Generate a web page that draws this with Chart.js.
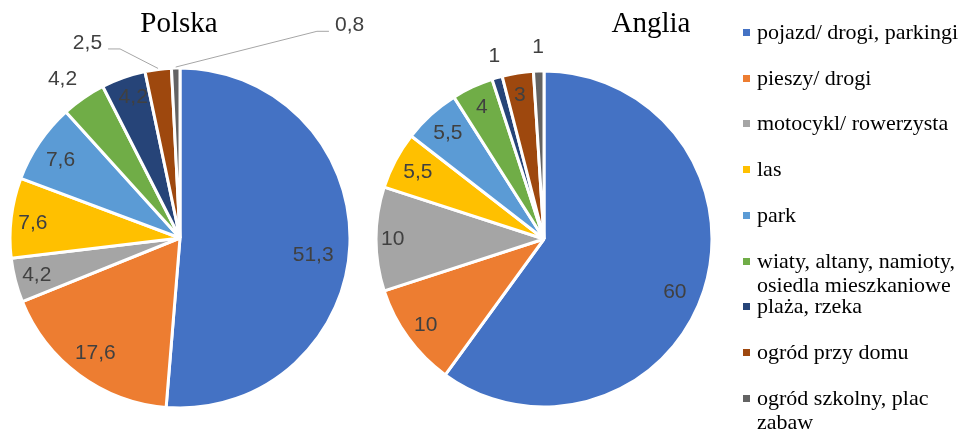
<!DOCTYPE html>
<html>
<head>
<meta charset="utf-8">
<script src="https://cdn.jsdelivr.net/npm/chart.js@4"></script>
<style>
  body { margin: 0; background: #fff; overflow: hidden; }
  #wrap { position: relative; width: 964px; height: 430px; }
  canvas { position: absolute; top: 0; }
  .title { position: absolute; font: 29px "Liberation Serif", "Times New Roman", serif; color: #000; transform: translateX(-50%); line-height: 1; }
  .item { position: absolute; left: 743px; font: 22px/24px "Liberation Serif", "Times New Roman", serif; color: #000; }
  .item span.box { position: absolute; left: 0; top: 9px; width: 7px; height: 7px; }
  .item span.txt { display: block; margin-left: 14px; width: 207px; }
</style>
</head>
<body>
<div id="wrap">
  <canvas id="polska" width="400" height="430" style="left:0;width:400px;height:430px"></canvas>
  <canvas id="anglia" width="360" height="430" style="left:364px;width:360px;height:430px"></canvas>
  <div class="title" style="left:179px;top:8px">Polska</div>
  <div class="title" style="left:651px;top:8px">Anglia</div>
  <div id="legend"></div>
</div>
<script>
const categories = [
  'pojazd/ drogi, parkingi',
  'pieszy/ drogi',
  'motocykl/ rowerzysta',
  'las',
  'park',
  'wiaty, altany, namioty, osiedla mieszkaniowe',
  'plaża, rzeka',
  'ogród przy domu',
  'ogród szkolny, plac zabaw'
];
const polskaValues = [51.3, 17.6, 4.2, 7.6, 7.6, 4.2, 4.2, 2.5, 0.8];
const angliaValues = [60, 10, 10, 5.5, 5.5, 4, 1, 3, 1];
const colors = ['#4472C4', '#ED7D31', '#A5A5A5', '#FFC000', '#5B9BD5', '#70AD47', '#264478', '#9E480E', '#636363'];

// label placement: [fraction of radius, angle shift in degrees, leader line]
const polskaPlace = [[0.79, 5], [0.84, 0], [0.87, 0], [0.87, -1], [0.84, -1], [1.16, -2], [0.87, 1], [1.27, -18, true], [1.6, 40, true]];
const angliaPlace = [[0.84, 4], [0.87, 0], [0.9, 0], [0.85, 0], [0.85, 0], [0.87, 0], [1.13, 1], [0.87, -0.5], [1.14, 0]];

function makeLabels(place) {
  return {
    id: 'valueLabels',
    afterDatasetsDraw(chart) {
      const ctx = chart.ctx;
      const meta = chart.getDatasetMeta(0);
      const values = chart.data.datasets[0].data;
      ctx.save();
      ctx.font = '21px "Liberation Sans", Arial, sans-serif';
      ctx.fillStyle = '#404040';
      ctx.strokeStyle = '#a6a6a6';
      ctx.lineWidth = 1;
      ctx.textAlign = 'center';
      ctx.textBaseline = 'middle';
      meta.data.forEach((arc, i) => {
        const p = arc.getProps(['x', 'y', 'startAngle', 'endAngle', 'outerRadius'], true);
        const [rf, da, leader] = place[i];
        const mid = (p.startAngle + p.endAngle) / 2;
        const a = mid + da * Math.PI / 180;
        const lx = p.x + Math.cos(a) * p.outerRadius * rf;
        const ly = p.y + Math.sin(a) * p.outerRadius * rf;
        const text = String(values[i]).replace('.', ',');
        if (leader) {
          const sx = p.x + Math.cos(mid) * (p.outerRadius + 1);
          const sy = p.y + Math.sin(mid) * (p.outerRadius + 1);
          const hw = ctx.measureText(text).width / 2;
          const dir = lx < sx ? 1 : -1;
          const ex = lx + dir * (hw + 6), ey = ly + 6;
          ctx.beginPath();
          ctx.moveTo(ex, ey);
          ctx.lineTo(ex + dir * 12, ey);
          ctx.lineTo(sx, sy);
          ctx.stroke();
        }
        ctx.fillText(text, lx, ly);
      });
      ctx.restore();
    }
  };
}

function makePie(id, values, place, radius, padding) {
  return new Chart(document.getElementById(id), {
    type: 'pie',
    data: {
      labels: categories,
      datasets: [{
        data: values,
        backgroundColor: colors,
        borderColor: '#fff',
        borderWidth: 3,
        radius: radius
      }]
    },
    options: {
      responsive: false,
      animation: false,
      events: [],
      layout: { padding: padding },
      plugins: { legend: { display: false }, tooltip: { enabled: false } }
    },
    plugins: [makeLabels(place)]
  });
}

makePie('polska', polskaValues, polskaPlace, 170, { top: 46, right: 40 });
makePie('anglia', angliaValues, angliaPlace, 168, { top: 48 });

// legend
const legend = document.getElementById('legend');
categories.forEach((c, i) => {
  const d = document.createElement('div');
  d.className = 'item';
  d.style.top = (20 + i * 45.7) + 'px';
  d.innerHTML = `<span class="box" style="background:${colors[i]}"></span><span class="txt">${c}</span>`;
  legend.appendChild(d);
});
</script>
</body>
</html>
